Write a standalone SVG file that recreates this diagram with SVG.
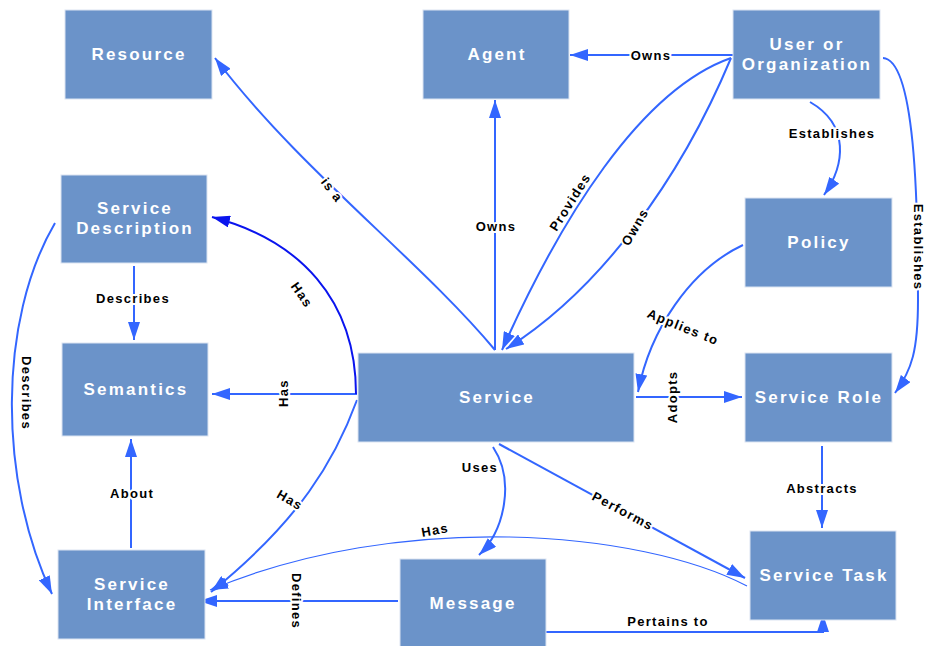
<svg xmlns="http://www.w3.org/2000/svg" width="927" height="646" viewBox="0 0 927 646">
  <defs>
    <marker id="arrow" markerUnits="userSpaceOnUse" markerWidth="18" markerHeight="12" refX="18" refY="6" orient="auto">
      <path d="M0,0 L18,6 L0,12 z" fill="#3366ff"/>
    </marker>
    <marker id="arrow-dark" markerUnits="userSpaceOnUse" markerWidth="18" markerHeight="12" refX="18" refY="6" orient="auto">
      <path d="M0,0 L18,6 L0,12 z" fill="#0a14ee"/>
    </marker>
    <style>
      .node rect { fill: #6b93c9; stroke: #dbe4f2; stroke-width: 1; }
      .node text { font-family: "Liberation Sans", Arial, sans-serif; font-weight: bold; font-size: 17px; letter-spacing: 2.2px; fill: #ffffff; text-anchor: middle; }
      .edge { fill: none; stroke: #3366ff; stroke-width: 2; marker-end: url(#arrow); }
      .edge.thin { stroke-width: 1.2; }
      .edge.dark { stroke: #0a14ee; marker-end: url(#arrow-dark); }
      .label { font-family: "Liberation Sans", Arial, sans-serif; font-weight: bold; font-size: 13px; letter-spacing: 1.3px; fill: #000000; text-anchor: middle; stroke: #ffffff; stroke-width: 4px; paint-order: stroke; stroke-linejoin: round; }
    </style>
  </defs>
  <rect width="927" height="646" fill="#ffffff"/>

  <!-- connectors -->
  <g id="connectors">
    <path class="edge" d="M495,350 C420,260 300,170 215,58"/>
    <path class="edge" d="M495,350 V100"/>
    <path class="edge" d="M733,55 H570"/>
    <path class="edge" d="M731,58 C640,90 560,220 502,350"/>
    <path class="edge" d="M731,58 C680,180 600,290 506,349"/>
    <path class="edge" d="M810,102 C850,125 845,165 824,195"/>
    <path class="edge" d="M883,58 C915,60 918,200 918,300 C918,350 912,370 895,393"/>
    <path class="edge" d="M743,245 C690,270 650,330 638,392"/>
    <path class="edge" d="M636,397 H742"/>
    <path class="edge" d="M822,446 V528"/>
    <path class="edge" d="M499,444 L745,578"/>
    <path class="edge" d="M493,447 C515,480 505,530 479,555"/>
    <path class="edge" d="M545,632 H823 V614"/>
    <path class="edge" d="M398,601 H199"/>
    <path class="edge thin" d="M747,586 C640,530 400,510 210,590"/>
    <path class="edge" d="M357,400 C335,460 300,520 211,592"/>
    <path class="edge" d="M357,394 H212"/>
    <path class="edge dark" d="M356,394 C356,300 300,240 212,217"/>
    <path class="edge" d="M134,266 V340"/>
    <path class="edge" d="M131,548 V439"/>
    <path class="edge" d="M55,223 C-2,320 -2,480 52,594"/>

    <text class="label" transform="translate(332,190) rotate(52)" dy=".35em">is a</text>
    <text class="label" x="496" y="226" dy=".35em">Owns</text>
    <text class="label" x="651" y="55" dy=".35em">Owns</text>
    <text class="label" transform="translate(570,202) rotate(-58)" dy=".35em">Provides</text>
    <text class="label" transform="translate(635,227) rotate(-60)" dy=".35em">Owns</text>
    <text class="label" x="832" y="133" dy=".35em">Establishes</text>
    <text class="label" transform="translate(919,247) rotate(90)" dy=".35em">Establishes</text>
    <text class="label" transform="translate(683,327) rotate(22)" dy=".35em">Applies to</text>
    <text class="label" transform="translate(672,397) rotate(-90)" dy=".35em">Adopts</text>
    <text class="label" x="822" y="488" dy=".35em">Abstracts</text>
    <text class="label" transform="translate(623,511) rotate(28)" dy=".35em">Performs</text>
    <text class="label" x="480" y="467" dy=".35em">Uses</text>
    <text class="label" x="668" y="621" dy=".35em">Pertains to</text>
    <text class="label" transform="translate(297,601) rotate(90)" dy=".35em">Defines</text>
    <text class="label" transform="translate(435,530) rotate(-10)" dy=".35em">Has</text>
    <text class="label" transform="translate(290,500) rotate(30)" dy=".35em">Has</text>
    <text class="label" transform="translate(283,393) rotate(-90)" dy=".35em">Has</text>
    <text class="label" transform="translate(302,295) rotate(55)" dy=".35em">Has</text>
    <text class="label" x="133" y="298" dy=".35em">Describes</text>
    <text class="label" x="132" y="493" dy=".35em">About</text>
    <text class="label" transform="translate(27,393) rotate(90)" dy=".35em">Describes</text>
  </g>

  <!-- nodes -->
  <g id="resource" class="node">
    <rect x="65" y="10" width="147" height="89"/>
    <text x="139" y="54" dy=".35em">Resource</text>
  </g>
  <g id="agent" class="node">
    <rect x="423" y="10" width="146" height="89"/>
    <text x="497" y="54" dy=".35em">Agent</text>
  </g>
  <g id="user-org" class="node">
    <rect x="733" y="10" width="147" height="89"/>
    <text x="807" y="44" dy=".35em">User or</text>
    <text x="807" y="64" dy=".35em">Organization</text>
  </g>
  <g id="policy" class="node">
    <rect x="745" y="198" width="147" height="89"/>
    <text x="819" y="242" dy=".35em">Policy</text>
  </g>
  <g id="service-description" class="node">
    <rect x="61" y="175" width="146" height="88"/>
    <text x="135" y="208" dy=".35em">Service</text>
    <text x="135" y="228" dy=".35em">Description</text>
  </g>
  <g id="semantics" class="node">
    <rect x="62" y="343" width="146" height="93"/>
    <text x="136" y="389" dy=".35em">Semantics</text>
  </g>
  <g id="service" class="node">
    <rect x="358" y="353" width="276" height="89"/>
    <text x="497" y="397" dy=".35em">Service</text>
  </g>
  <g id="service-role" class="node">
    <rect x="745" y="353" width="147" height="89"/>
    <text x="819" y="397" dy=".35em">Service Role</text>
  </g>
  <g id="service-interface" class="node">
    <rect x="58" y="550" width="147" height="89"/>
    <text x="132" y="584" dy=".35em">Service</text>
    <text x="132" y="604" dy=".35em">Interface</text>
  </g>
  <g id="message" class="node">
    <rect x="400" y="559" width="146" height="92"/>
    <text x="473" y="603" dy=".35em">Message</text>
  </g>
  <g id="service-task" class="node">
    <rect x="750" y="531" width="146" height="89"/>
    <text x="824" y="575" dy=".35em">Service Task</text>
  </g>
</svg>
